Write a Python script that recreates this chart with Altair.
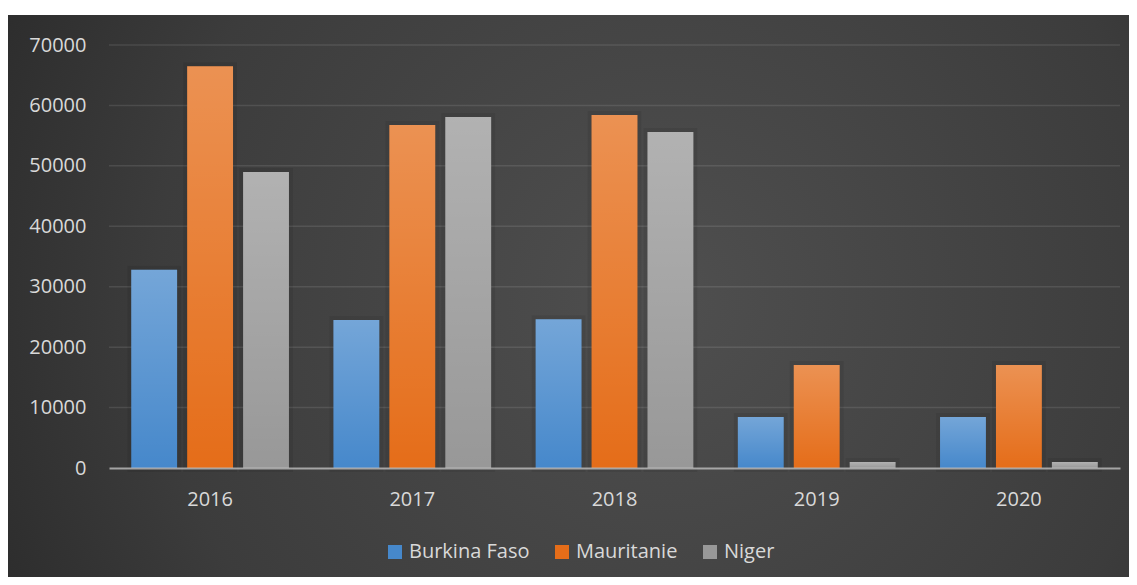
import altair as alt
import pandas as pd

years = ["2016", "2017", "2018", "2019", "2020"]
series = ["Burkina Faso", "Mauritanie", "Niger"]
burkina = [32800, 24500, 24600, 8450, 8450]
mauritanie = [66500, 56750, 58400, 17050, 17050]
niger = [49000, 58100, 55600, 1000, 1000]
ticks = [0, 10000, 20000, 30000, 40000, 50000, 60000, 70000]

rows = []
for name, vals in zip(series, [burkina, mauritanie, niger]):
    for y, v in zip(years, vals):
        rows.append({"year": y, "country": name, "value": v})
df = pd.DataFrame(rows)
grid_df = pd.DataFrame({"value": ticks[1:]})

FONT = "Open Sans"
W, H = 1011, 423

bg = alt.Chart(alt.Data(values=[{"a": 1}])).mark_rect(
    clip=False,
    fill={
        "gradient": "radial",
        "x1": 0.58, "y1": 0.5, "x2": 0.58, "y2": 0.5,
        "r1": 0, "r2": 0.75,
        "stops": [
            {"offset": 0, "color": "#4f4f4f"},
            {"offset": 0.6, "color": "#3c3c3c"},
            {"offset": 1, "color": "#242424"},
        ],
    },
).encode(
    x=alt.value(-101), x2=alt.value(W + 20),
    y=alt.value(-30), y2=alt.value(H + 120),
)

y_scale = alt.Scale(domain=[0, 70000], nice=False)

x_enc = alt.X("year:N", sort=years, title=None,
              scale=alt.Scale(paddingInner=0.22, paddingOuter=0.11),
              axis=alt.Axis(labelAngle=0, labelFontSize=20, labelFont=FONT,
                            labelColor="#d9d9d9", labelPadding=21, ticks=False,
                            domainColor="#bfbfbf", domainWidth=2, domainOpacity=0.8,
                            grid=False, zindex=1))
y_enc = alt.Y("value:Q", title=None, scale=y_scale,
              axis=alt.Axis(values=ticks, format="d", labelFontSize=20,
                            labelFont=FONT, labelColor="#d9d9d9", labelPadding=23,
                            ticks=False, domain=False, grid=False, zindex=1))
xo = alt.XOffset("country:N", sort=series,
                 scale=alt.Scale(paddingInner=0.18, paddingOuter=0))

grid = alt.Chart(grid_df).mark_rule(color="#ffffff", opacity=0.1, strokeWidth=1.5).encode(
    y=y_enc
)

base = alt.Chart(df).encode(x=x_enc, y=y_enc, xOffset=xo)

shadow = base.mark_bar(
    fillOpacity=0, stroke="#000000", strokeWidth=8, strokeOpacity=0.07
)

bars = base.mark_bar().encode(
    color=alt.Color("country:N", sort=series, title=None,
                    scale=alt.Scale(domain=series,
                                    range=["#4688cb", "#e56d19", "#989898"]),
                    legend=alt.Legend(orient="none", direction="horizontal",
                                      legendX=276, legendY=497,
                                      symbolType="square", symbolSize=196,
                                      symbolStrokeWidth=0, symbolOpacity=1,
                                      labelFontSize=20, labelFont=FONT,
                                      labelColor="#d9d9d9", labelOffset=4,
                                      columnPadding=22)),
)

shine = base.mark_bar(
    fill={
        "gradient": "linear", "x1": 0, "y1": 0, "x2": 0, "y2": 1,
        "stops": [
            {"offset": 0, "color": "rgba(255,255,255,0.25)"},
            {"offset": 1, "color": "rgba(255,255,255,0)"},
        ],
    }
)

chart = alt.layer(bg, grid, shadow, bars, shine).properties(
    width=W, height=H,
    padding={"left": 101, "top": 37, "right": 9, "bottom": 109},
    autosize=alt.AutoSizeParams(type="none"),
    background="#ffffff",
).configure_view(stroke=None)

chart.save("out.html", embed_options={"renderer": "svg", "actions": False})
